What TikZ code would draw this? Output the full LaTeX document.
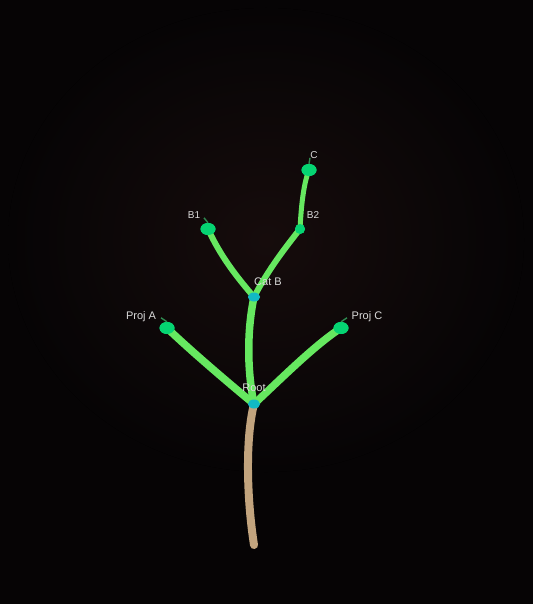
\documentclass[tikz,border=0pt]{standalone}
\usepackage{fontspec}
\setmainfont{Liberation Sans}
\usetikzlibrary{shapes.geometric}
\begin{document}
\begin{tikzpicture}[x=1pt,y=-1pt,
  branch/.style={draw=brgreen,line cap=round},
  trunkline/.style={draw=trunkcol,line width=8pt,line cap=round},
  leaf/.style={ellipse,fill=leafgreen,inner sep=0pt,minimum width=15pt,minimum height=12pt},
  joint/.style={ellipse,fill=jointcyan,inner sep=0pt,minimum width=12pt,minimum height=9pt},
  knot/.style={circle,fill=leafgreen,inner sep=0pt,minimum size=10pt},
  lbl/.style={text=labelgray,font=\fontsize{11}{13}\selectfont,inner sep=0pt},
  slbl/.style={text=labelgray,font=\fontsize{10}{12}\selectfont,inner sep=0pt},
  stem/.style={draw=stemgreen,line width=1.4pt}]
\definecolor{bgcol}{HTML}{060405}
\definecolor{glowcol}{HTML}{160C0C}
\definecolor{brgreen}{HTML}{66E860}
\definecolor{trunkcol}{HTML}{C2A47E}
\definecolor{leafgreen}{HTML}{05D472}
\definecolor{jointcyan}{HTML}{12B9C4}
\definecolor{labelgray}{HTML}{DADADA}
\definecolor{stemgreen}{HTML}{2E8A50}
\useasboundingbox (0,0) rectangle (533,604);
\fill[bgcol] (0,0) rectangle (533,604);
\fill[inner color=glowcol,outer color=bgcol] (266,240) ellipse (258 and 232);
% nodes
\coordinate (base) at (254,545);
\node[joint] (root) at (254,404) {};
\node[joint] (catb) at (254,297) {};
\node[leaf] (proja) at (167,328) {};
\node[leaf] (projc) at (341,328) {};
\node[leaf] (b1) at (208,229) {};
\node[knot] (b2) at (300,229) {};
\node[leaf] (c) at (309,170) {};
% trunk
\draw[trunkline] (base) .. controls (247,500) and (245,440) .. (root.center);
% branches
\draw[branch,line width=7.5pt] (root.center) .. controls (247,370) and (247,330) .. (catb.center);
\draw[branch,line width=7.5pt] (root.center) .. controls (225,380) and (190,350) .. (proja.center);
\draw[branch,line width=7.5pt] (root.center) .. controls (285,375) and (315,345) .. (projc.center);
\draw[branch,line width=6pt] (catb.center) .. controls (235,275) and (220,255) .. (b1.center);
\draw[branch,line width=6pt] (catb.center) .. controls (268,270) and (285,248) .. (b2.center);
\draw[branch,line width=5pt] (b2.center) .. controls (301,210) and (303,185) .. (c.center);
% redraw nodes on top
\node[joint] at (root) {};
\node[joint] at (catb) {};
\node[leaf] at (proja) {};
\node[leaf] at (projc) {};
\node[leaf] at (b1) {};
\node[knot] at (b2) {};
\node[leaf] at (c) {};
% stems
\draw[stem] (proja.north) -- ++(-6,-4);
\draw[stem] (projc.north) -- ++(6,-4);
\draw[stem] (b1.north) -- ++(-4,-5);
\draw[stem] (c.north) -- ++(1,-6);
% labels
\node[lbl] (lroot) at (254,388) {Root};
\node[lbl] (lcatb) at (268,282) {Cat B};
\node[lbl] (lproja) at (141,317) {Proj A};
\node[lbl] (lprojc) at (367,317) {Proj C};
\node[slbl] (lb1) at (194,215) {B1};
\node[slbl] (lb2) at (313,215) {B2};
\node[slbl] (lc) at (314,155) {C};
\end{tikzpicture}
\end{document}
